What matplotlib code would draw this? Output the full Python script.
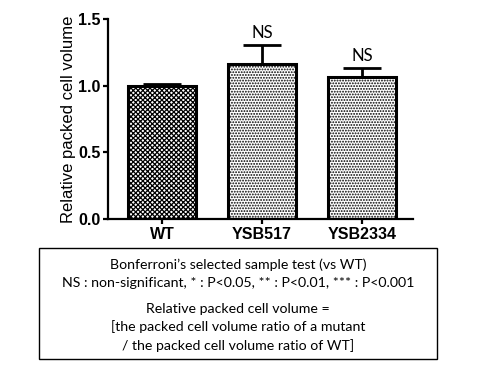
import matplotlib
matplotlib.use('Agg')
import matplotlib.pyplot as plt
from matplotlib.patches import Rectangle

# data
strains = ['WT', 'YSB517', 'YSB2334']
values = [1.0, 1.16, 1.063]
errors = [0.01, 0.145, 0.067]
sig_labels = ['', 'NS', 'NS']
hatches = ['xxxxxxx', '......', '......']

box_lines_top = ["Bonferroni\u2019s selected sample test (vs WT)",
                 "NS : non-significant, * : P<0.05, ** : P<0.01, *** : P<0.001"]
box_lines_bottom = ["Relative packed cell volume =",
                    "[the packed cell volume ratio of a mutant",
                    "/ the packed cell volume ratio of WT]"]

plt.rcParams['hatch.linewidth'] = 0.9

fig = plt.figure(figsize=(4.8, 3.7), dpi=100)
ax = fig.add_axes([0.225, 0.408, 0.635, 0.541])

x = list(range(len(strains)))
ax.bar(x, values, width=0.68, color='white', edgecolor='black',
       linewidth=2.2, hatch=hatches, zorder=2)
ax.errorbar(x, values, yerr=[[0] * len(errors), errors], fmt='none',
            ecolor='black', elinewidth=2, capsize=13.5, capthick=2, zorder=3)

for xi, v, e, lab in zip(x, values, errors, sig_labels):
    if lab:
        ax.text(xi, v + e + 0.03, lab, ha='center', va='bottom',
                fontsize=12, family='Lato')

ax.set_xlim(-0.54, 2.51)
ax.set_ylim(0, 1.5)
ax.set_yticks([0.0, 0.5, 1.0, 1.5])
ax.set_yticklabels(['0.0', '0.5', '1.0', '1.5'])
ax.set_xticks(x)
ax.set_xticklabels(strains)
for lbl in ax.get_xticklabels() + ax.get_yticklabels():
    lbl.set_family('Liberation Sans')
    lbl.set_fontweight('bold')
    lbl.set_fontsize(11.5)
ax.set_ylabel('Relative packed cell volume', family='Liberation Sans',
              fontsize=12, labelpad=1)

ax.spines['top'].set_visible(False)
ax.spines['right'].set_visible(False)
ax.spines['left'].set_linewidth(1.6)
ax.spines['bottom'].set_linewidth(1.6)
ax.tick_params(axis='both', direction='out', length=3.5, width=1.6, pad=2)

# legend box under the chart
fig.patches.append(Rectangle((39 / 480, 1 - 359 / 370), 398 / 480, 111 / 370,
                             transform=fig.transFigure, fill=False,
                             edgecolor='black', linewidth=1.0))
ys_top = [265, 283]
ys_bottom = [309, 327, 346]
for y, t in zip(ys_top + ys_bottom, box_lines_top + box_lines_bottom):
    fig.text(238 / 480, 1 - y / 370, t, ha='center', va='center',
             fontsize=10.2, family='Lato')

fig.savefig('out.png', dpi=100)
